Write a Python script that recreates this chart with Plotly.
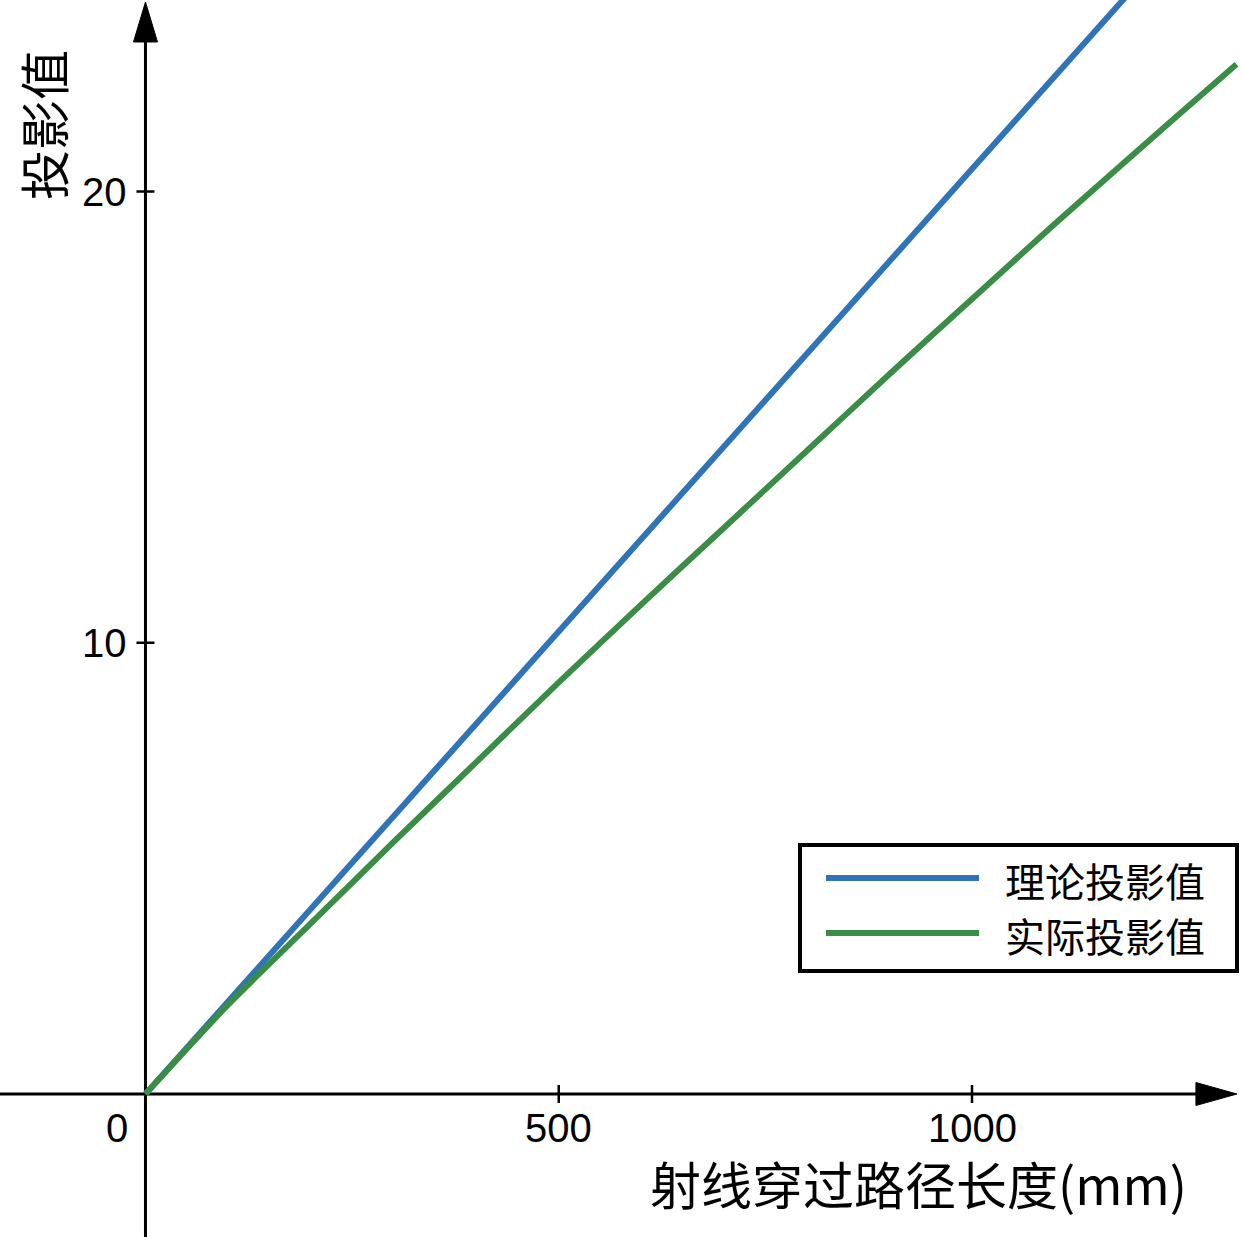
import plotly.graph_objects as go

# ---- data ----
path_length = [0, 100, 200, 300, 400, 500, 600, 700, 800, 900, 1000, 1100, 1200, 1300, 1320]
theory_vals = [0, 2.05, 4.1, 6.15, 8.2, 10.25, 12.3, 14.35, 16.4, 18.45, 20.5, 22.55, 24.6, 26.65, 27.06]
actual_vals = [0, 1.98, 3.78, 5.58, 7.35, 9.12, 10.85, 12.55, 14.25, 15.95, 17.62, 19.28, 20.9, 22.5, 22.82]

x_ticks = [500, 1000]
x_tick_labels = ["500", "1000"]
y_ticks = [10, 20]
y_tick_labels = ["10", "20"]

series_names = ["理论投影值", "实际投影值"]
series_colors = ["#2f74b7", "#3a8d45"]

x_title = "射线穿过路径长度(mm)"
y_title = "投影值"

# ---- layout constants ----
W, H = 1246, 1237
X_RANGE = [-176.0, 1331.5]
Y_RANGE = [-3.169, 24.244]
X_AXIS_END = 1320.5   # arrow tip (data units)
Y_AXIS_END = 24.2
SANS = "Liberation Sans, Arial, sans-serif"
CJK = "Noto Sans CJK SC, sans-serif"

fig = go.Figure()
fig.add_trace(go.Scatter(x=path_length, y=theory_vals, mode="lines", name=series_names[0],
                         line=dict(color=series_colors[0], width=6), showlegend=False))
fig.add_trace(go.Scatter(x=path_length, y=actual_vals, mode="lines", name=series_names[1],
                         line=dict(color=series_colors[1], width=6, shape="spline", smoothing=0.6),
                         showlegend=False))

shapes = []
# axis lines
shapes.append(dict(type="line", xref="x", yref="y", x0=X_RANGE[0], x1=X_AXIS_END - 40 / 0.8265,
                   y0=0, y1=0, line=dict(color="black", width=3), layer="below"))
shapes.append(dict(type="line", xref="x", yref="y", x0=0, x1=0,
                   y0=Y_RANGE[0], y1=Y_AXIS_END - 38 / 45.125, line=dict(color="black", width=3), layer="below"))
# arrow heads (pixel-sized, anchored at axis ends)
shapes.append(dict(type="path", xref="x", yref="y", xsizemode="pixel", ysizemode="pixel",
                   xanchor=X_AXIS_END, yanchor=0,
                   path="M 0,0 L -41,11.5 L -41,-11.5 Z", fillcolor="black", line=dict(color="black", width=1)))
shapes.append(dict(type="path", xref="x", yref="y", xsizemode="pixel", ysizemode="pixel",
                   xanchor=0, yanchor=Y_AXIS_END,
                   path="M 0,0 L -12,-40 L 12,-40 Z", fillcolor="black", line=dict(color="black", width=1)))
# tick marks
for t in x_ticks:
    shapes.append(dict(type="line", xref="x", yref="y", xsizemode="scaled", ysizemode="pixel",
                       x0=t, x1=t, yanchor=0, y0=-9, y1=9, line=dict(color="black", width=2.5)))
for t in y_ticks:
    shapes.append(dict(type="line", xref="x", yref="y", xsizemode="pixel", ysizemode="scaled",
                       xanchor=0, x0=-9, x1=9, y0=t, y1=t, line=dict(color="black", width=2.5)))

# custom legend
shapes.append(dict(type="rect", xref="paper", yref="paper",
                   x0=800 / W, x1=1237 / W, y0=1 - 971 / H, y1=1 - 845 / H,
                   line=dict(color="black", width=4), fillcolor="white"))
legend_rows_px = [878, 933]
for i, ypx in enumerate(legend_rows_px):
    shapes.append(dict(type="line", xref="paper", yref="paper",
                       x0=826 / W, x1=979 / W, y0=1 - ypx / H, y1=1 - ypx / H,
                       line=dict(color=series_colors[i], width=6)))

annotations = []
for t, lab in zip(x_ticks, x_tick_labels):
    annotations.append(dict(x=t, y=0, xref="x", yref="y", text=lab, showarrow=False,
                            yshift=-34, xanchor="center", yanchor="middle",
                            font=dict(family=SANS, size=40, color="black")))
annotations.append(dict(x=0, y=0, xref="x", yref="y", text="0", showarrow=False,
                        xshift=-28, yshift=-34, xanchor="center", yanchor="middle",
                        font=dict(family=SANS, size=40, color="black")))
for t, lab in zip(y_ticks, y_tick_labels):
    annotations.append(dict(x=0, y=t, xref="x", yref="y", text=lab, showarrow=False,
                            xshift=-16, xanchor="right", yanchor="middle",
                            font=dict(family=SANS, size=40, color="black")))
annotations.append(dict(x=918 / W, y=1 - 1183 / H, xref="paper", yref="paper", text=x_title,
                        showarrow=False, xanchor="center", yanchor="middle",
                        font=dict(family=CJK, size=51, color="black")))
annotations.append(dict(x=42 / W, y=1 - 125 / H, xref="paper", yref="paper", text=y_title,
                        showarrow=False, textangle=-90, xanchor="center", yanchor="middle",
                        font=dict(family=CJK, size=50, color="black")))
for i, ypx in enumerate(legend_rows_px):
    annotations.append(dict(x=1003 / W, y=1 - (ypx + 2) / H, xref="paper", yref="paper",
                            text=series_names[i], showarrow=False, xanchor="left", yanchor="middle",
                            font=dict(family=CJK, size=40, color="black")))

fig.update_layout(
    width=W, height=H,
    margin=dict(l=0, r=0, t=0, b=0),
    paper_bgcolor="white", plot_bgcolor="white",
    xaxis=dict(range=X_RANGE, visible=False, fixedrange=True),
    yaxis=dict(range=Y_RANGE, visible=False, fixedrange=True),
    shapes=shapes, annotations=annotations,
    showlegend=False,
)

fig.write_html("out.html", config={"displayModeBar": False},
               post_script="document.body.style.margin='0';document.body.style.padding='0';")
